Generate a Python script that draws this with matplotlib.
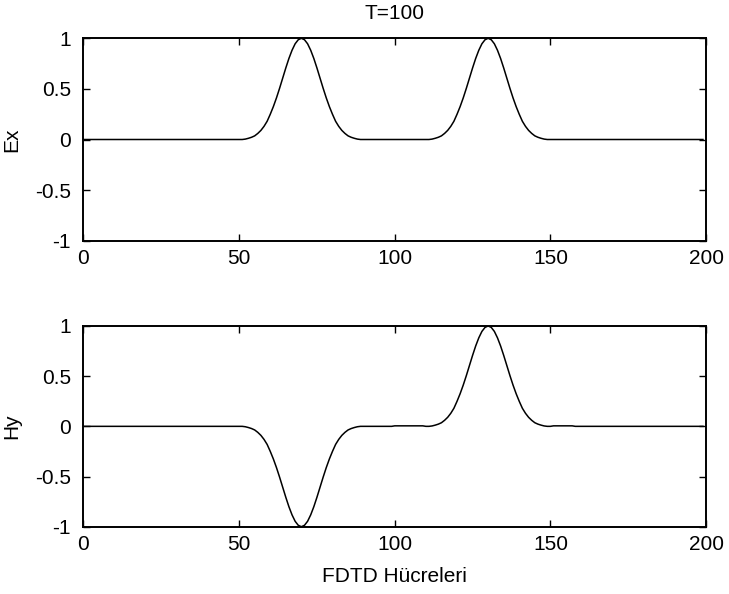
import numpy as np
import matplotlib
matplotlib.use("Agg")
import matplotlib.pyplot as plt

plt.rcParams['font.family'] = ['Liberation Sans', 'DejaVu Sans']

# FDTD grid, 200 cells
ncells = 200
title = "T=100"
xlabel = "FDTD H\u00fccreleri"

# pulse values (cells 50..90 and 110..150)
ex_left_cells = list(range(50, 91))
ex_left = [0.0, 0.0, 0.004, 0.012, 0.022, 0.036, 0.06, 0.09, 0.13, 0.18,
           0.249, 0.325, 0.411, 0.506, 0.607, 0.707, 0.801, 0.882, 0.946, 0.986,
           1.0,
           0.986, 0.946, 0.882, 0.801, 0.707, 0.607, 0.506, 0.411, 0.325, 0.249,
           0.18, 0.13, 0.09, 0.06, 0.036, 0.022, 0.012, 0.004, 0.0, 0.0]
ex_right_cells = list(range(110, 151))
ex_right = [0.0, 0.0, 0.004, 0.012, 0.022, 0.036, 0.06, 0.09, 0.13, 0.18,
            0.249, 0.325, 0.411, 0.506, 0.607, 0.707, 0.801, 0.882, 0.946, 0.986,
            1.0,
            0.986, 0.946, 0.882, 0.801, 0.707, 0.607, 0.506, 0.411, 0.325, 0.249,
            0.18, 0.13, 0.09, 0.06, 0.036, 0.022, 0.012, 0.004, 0.0, 0.0]

hy_left_cells = list(range(50, 91))
hy_left = [0.0, 0.0, -0.004, -0.012, -0.022, -0.036, -0.06, -0.09, -0.13, -0.18,
           -0.249, -0.325, -0.411, -0.506, -0.607, -0.707, -0.801, -0.882, -0.946, -0.986,
           -1.0,
           -0.986, -0.946, -0.882, -0.801, -0.707, -0.607, -0.506, -0.411, -0.325, -0.249,
           -0.18, -0.13, -0.09, -0.06, -0.036, -0.022, -0.012, -0.004, 0.0, 0.0]
hy_right_cells = list(range(110, 151))
hy_right = [0.0, 0.0, 0.004, 0.012, 0.022, 0.036, 0.06, 0.09, 0.13, 0.18,
            0.249, 0.325, 0.411, 0.506, 0.607, 0.707, 0.801, 0.882, 0.946, 0.986,
            1.0,
            0.986, 0.946, 0.882, 0.801, 0.707, 0.607, 0.506, 0.411, 0.325, 0.249,
            0.18, 0.13, 0.09, 0.06, 0.036, 0.022, 0.012, 0.004, 0.0, 0.0]
# small residual steps seen in Hy
hy_step_cells = list(range(100, 110)) + list(range(151, 158))
hy_step = [0.005] * 10 + [0.005] * 7

xticks = [0, 50, 100, 150, 200]
xticklabels = ["0", "50", "100", "150", "200"]
yticks = [-1, -0.5, 0, 0.5, 1]
yticklabels = ["-1", "-0.5", "0", "0.5", "1"]

cells = np.arange(0, ncells)
ex = np.zeros(ncells)
hy = np.zeros(ncells)
ex[np.array(ex_left_cells)] = ex_left
ex[np.array(ex_right_cells)] = ex_right
hy[np.array(hy_left_cells)] = hy_left
hy[np.array(hy_right_cells)] = hy_right
hy[np.array(hy_step_cells)] = hy_step

fig = plt.figure(figsize=(7.29, 5.94), dpi=100)
ax1 = fig.add_axes([0.1145, 0.5948, 0.854, 0.3407])
ax2 = fig.add_axes([0.1145, 0.1133, 0.854, 0.3379])

for ax, y, lab in [(ax1, ex, "Ex"), (ax2, hy, "Hy")]:
    ax.plot(cells, y, color="black", linewidth=1.1)
    ax.set_xlim(0, 200)
    ax.set_ylim(-1, 1)
    ax.set_xticks(xticks)
    ax.set_xticklabels(xticklabels)
    ax.set_yticks(yticks)
    ax.set_yticklabels(yticklabels)
    ax.tick_params(direction="in", top=True, right=True, length=5, width=1,
                   labelsize=15)
    ax.tick_params(axis="y", pad=9)
    ax.tick_params(axis="x", pad=6)
    for s in ax.spines.values():
        s.set_linewidth(1.4)
    ax.set_ylabel(lab, fontsize=15, labelpad=10)

ax1.set_title(title, fontsize=15, pad=14)
ax2.set_xlabel(xlabel, fontsize=15, labelpad=9)

fig.savefig("out.png", dpi=100)
